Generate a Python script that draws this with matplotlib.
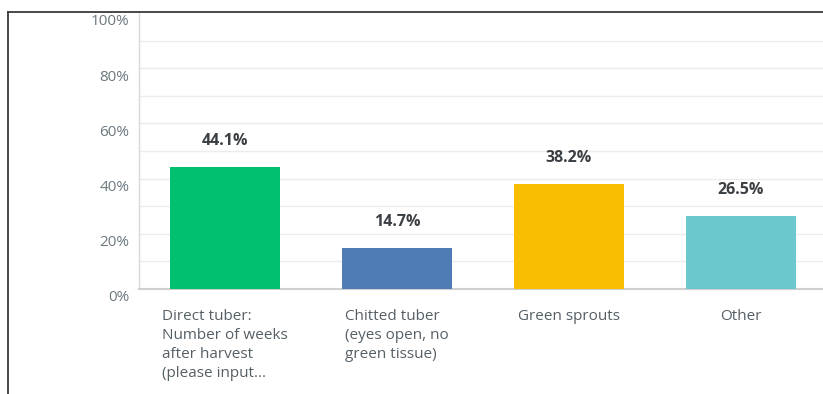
import matplotlib
matplotlib.use("Agg")
import matplotlib.pyplot as plt
from matplotlib.transforms import ScaledTranslation
from matplotlib.lines import Line2D

categories = ["Direct tuber:\nNumber of weeks\nafter harvest\n(please input...",
              "Chitted tuber\n(eyes open, no\ngreen tissue)",
              "Green sprouts",
              "Other"]
values = [44.1, 14.7, 38.2, 26.5]
colors = ["#00bf6f", "#507cb6", "#f9be00", "#6bc8cd"]
ytick_vals = [0, 20, 40, 60, 80, 100]
ytick_labels = ["0%", "20%", "40%", "60%", "80%", "100%"]

plt.rcParams['font.family'] = ['Open Sans', 'DejaVu Sans']

W, H = 823, 394
fig = plt.figure(figsize=(W/100, H/100), dpi=100)
fig.patch.set_facecolor("white")

ax_left, ax_right = 139, 827
ax_top, ax_bottom = 13, 289
ax = fig.add_axes([ax_left/W, 1 - ax_bottom/H, (ax_right-ax_left)/W, (ax_bottom-ax_top)/H])
ax.set_facecolor("white")

x = list(range(len(values)))
ax.bar(x, values, width=110/172, color=colors, zorder=3)
ax.set_xlim(-0.5, 3.5)
ax.set_ylim(0, 100)

for v in range(10, 100, 10):
    ax.axhline(v, color="#ececec", lw=1.0, zorder=1)

for xi, v in zip(x, values):
    ax.annotate(f"{v}%", (xi, v), xytext=(0, 18), textcoords="offset pixels",
                ha="center", va="bottom", fontsize=11.5, fontweight="bold", color="#3a3f44")

ax.set_yticks(ytick_vals)
ax.set_yticklabels(ytick_labels, fontsize=11, color="#6b787f")
ax.tick_params(axis="y", length=0, pad=7)
for lab in ax.get_yticklabels():
    lab.set_transform(lab.get_transform() + ScaledTranslation(0, -5/72, fig.dpi_scale_trans))

ax.set_xticks(x)
ax.set_xticklabels(categories, fontsize=11, color="#555f66", linespacing=1.36,
                   ha="center", multialignment="left")
ax.tick_params(axis="x", length=0, pad=14.5)

for s in ["top", "right"]:
    ax.spines[s].set_visible(False)
ax.spines["left"].set_color("#d9d9d9")
ax.spines["left"].set_linewidth(1.0)
ax.spines["bottom"].set_color("#cfcfcf")
ax.spines["bottom"].set_linewidth(1.5)

# outer frame (top and left)
fig.add_artist(Line2D([8/W, 1], [1 - 11.5/H, 1 - 11.5/H], color="#3a3a3a", lw=1.3, transform=fig.transFigure))
fig.add_artist(Line2D([8/W, 8/W], [0, 1 - 11.5/H], color="#3a3a3a", lw=1.3, transform=fig.transFigure))

fig.savefig("out.png", dpi=100, facecolor="white")
